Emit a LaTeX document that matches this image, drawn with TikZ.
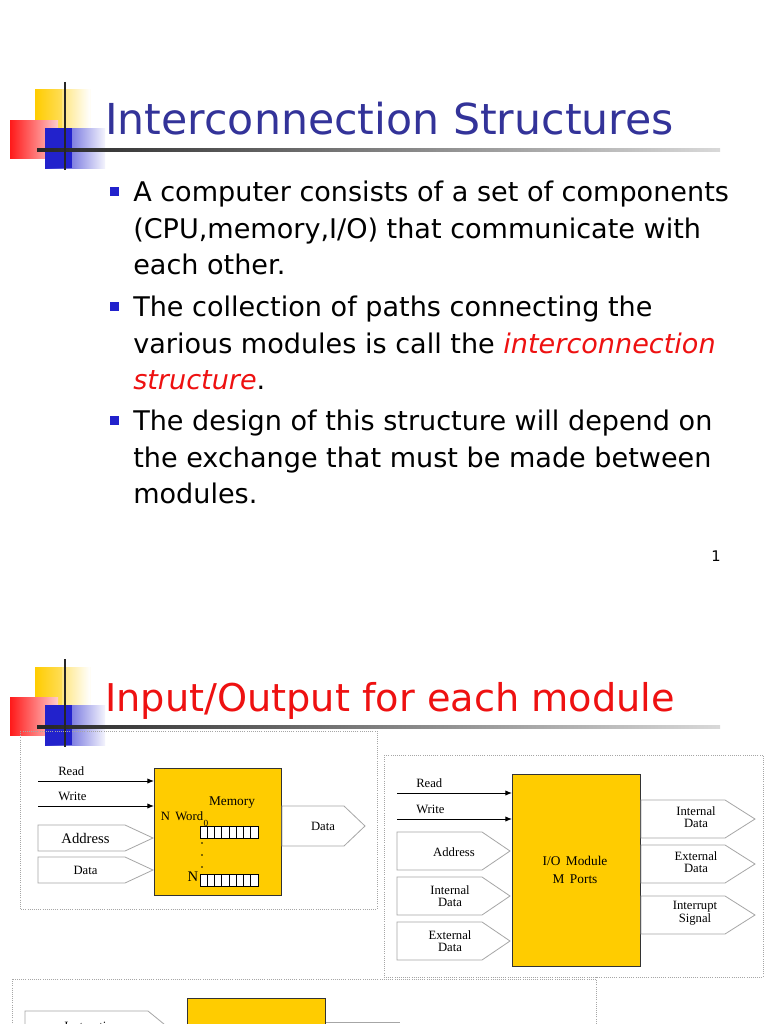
\documentclass[tikz,border=0pt]{standalone}
\usepackage{fontspec}
\setmainfont{Liberation Serif}
\newfontfamily\dejavu{DejaVu Sans}
\usetikzlibrary{arrows.meta}
\definecolor{ttl}{HTML}{333399}
\definecolor{gold}{HTML}{FFCC00}
\definecolor{redt}{HTML}{EE1111}
\definecolor{blu}{HTML}{2222CC}
\tikzset{
  dotbox/.style={draw=gray!70,densely dotted,line width=0.6pt},
  ybox/.style={draw=black!80,fill=gold,line width=0.6pt},
  penta/.style={draw=gray!70,fill=white,line width=0.6pt},
  sig/.style={-{Latex[length=5pt,width=4pt]},line width=0.7pt},
  lbl/.style={font=\fontsize{9.5}{10}\selectfont,inner sep=0pt},
  plbl/.style={font=\fontsize{9.5}{8.5}\selectfont,inner sep=0pt,align=center},
  btxt/.style={font=\dejavu\fontsize{20.3}{24}\selectfont,anchor=base west,inner sep=0pt},
}
\newcommand\pent[6]{\draw[penta] (#2,#3) -- (#4,#3) -- (#6,{(#3+#5)/2}) -- (#4,#5) -- (#2,#5) -- cycle;
  \coordinate (#1) at ({(#2+#4)/2+4},{(#3+#5)/2});}
\newcommand\logo[1]{%
  \begin{scope}[yshift=#1]
  \shade[left color=gold,right color=gold!30] (35,90) rectangle (90,140);
  \shade[left color=white!50!gold,right color=white] (62,90) rectangle (90,140);
  \shade[left color=red!90,right color=red!20] (10,120) rectangle (58,158);
  \shade[left color=blu,right color=blu!5] (45,128) rectangle (105,168);
  \fill[blu] (45,128) rectangle (72,168);
  \shade[left color=black!85,right color=black!15] (37,148.5) rectangle (720,151);
  \draw[black!85,line width=1.6pt] (65,82) -- (65,170);
  \end{scope}}
\begin{document}
\begin{tikzpicture}[x=0.75pt,y=-0.75pt]
\useasboundingbox (0,0) rectangle (768,1024);
\fill[white] (0,0) rectangle (768,1024);
\clip (0,0) rectangle (768,1024);
% ---------- slide 1
\logo{0}
\node[font=\dejavu\fontsize{32}{34}\selectfont,text=ttl,anchor=base west,inner sep=0pt] (t1) at (105,134) {Interconnection Structures};
\foreach \y in {193,308,422} \fill[blu] (110,\y-6) rectangle (119,\y+3);
\node[btxt] (l1) at (133,201) {A computer consists of a set of components};
\node[btxt] (l2) at (133,238) {(CPU,memory,I/O) that communicate with};
\node[btxt] (l3) at (133,274) {each other.};
\node[btxt] (l4) at (133,316) {The collection of paths connecting the};
\node[btxt] (l5) at (133,353) {various modules is call the {\color{redt}\itshape interconnection}};
\node[btxt] (l6) at (133,389) {{\color{redt}\itshape structure}.};
\node[btxt] (l7) at (133,430) {The design of this structure will depend on};
\node[btxt] (l8) at (133,467) {the exchange that must be made between};
\node[btxt] (l9) at (133,503) {modules.};
\node[font=\dejavu\fontsize{11}{12}\selectfont] (pg) at (716,556) {1};
% ---------- slide 2
\logo{-432.75pt}
\node[font=\dejavu\fontsize{28.7}{30}\selectfont,text=redt,anchor=base west,inner sep=0pt] (t2) at (105,711) {Input/Output for each module};
% memory panel
\draw[dotbox] (20,731) rectangle (377,909);
\node[ybox,minimum width=95.25pt,minimum height=95.25pt,anchor=north west] (mem) at (154,768) {};
\coordinate (r0) at (38,781); \coordinate (w0) at (38,806);
\draw[sig] (r0) -- (mem.west |- r0);
\draw[sig] (w0) -- (mem.west |- w0);
\node[lbl,anchor=base west] (lr) at (58,775) {Read};
\node[lbl,anchor=base west] (lw) at (58,800) {Write};
\pent{pa}{38}{825}{125}{851}{153}
\node[font=\fontsize{11}{12}\selectfont,inner sep=0pt] at (pa) {Address};
\pent{pd}{38}{857}{125}{883}{153}
\node[lbl] at (pd) {Data};
\pent{po}{282}{806}{344}{846}{365}
\node[lbl] at (323,826) {Data};
\node[font=\fontsize{10}{10}\selectfont,inner sep=0pt] (mt) at (232,803) {Memory};
\node[lbl] (nw) at (182,816) {N\, Word};
\foreach \yy in {826,874}{
  \draw[fill=white,line width=0.5pt] (200,\yy) rectangle (258,\yy+12);
  \foreach \k in {1,...,7} \draw[line width=0.5pt] (200+\k*7.25,\yy) -- (200+\k*7.25,\yy+12);}
\node[font=\fontsize{7}{7}\selectfont,inner sep=0pt] at (206,823) {0};
\foreach \yy in {843,855,867} \fill (202,\yy) circle (0.9);
\node[font=\fontsize{11}{11}\selectfont,inner sep=0pt] at (193,877) {N};
% I/O panel
\draw[dotbox] (384,755) rectangle (763,977);
\node[ybox,minimum width=96pt,minimum height=144pt,anchor=north west] (io) at (512,774) {};
\node[font=\fontsize{10}{13}\selectfont,align=center] (iot) at (575,870) {I/O\, Module\\M\, Ports};
\coordinate (r1) at (397,793); \coordinate (w1) at (397,819);
\draw[sig] (r1) -- (io.west |- r1);
\draw[sig] (w1) -- (io.west |- w1);
\node[lbl,anchor=base west] at (416,787) {Read};
\node[lbl,anchor=base west] at (416,813) {Write};
\pent{ia}{397}{832}{482}{870}{510}
\node[lbl] at (454,852) {Address};
\pent{ii}{397}{877}{482}{915}{510}
\node[plbl] at (450,896) {Internal\\Data};
\pent{ie}{397}{922}{482}{960}{510}
\node[plbl] at (450,941) {External\\Data};
\pent{oi}{641}{800}{725}{838}{755}
\node[plbl] at (696,817) {Internal\\Data};
\pent{oe}{641}{845}{725}{883}{755}
\node[plbl] at (696,862) {External\\Data};
\pent{os}{641}{896}{725}{934}{755}
\node[plbl] at (695,913) {Interrupt\\Signal};
% bottom panel
\draw[dotbox] (12,979) rectangle (596,1040);
\draw[dotbox] (596,977) -- (596,979);
\node[ybox,minimum width=103.5pt,minimum height=40pt,anchor=north west] (cpu) at (187,998) {};
\pent{bi}{25}{1011}{148}{1060}{178}
\node[lbl,anchor=base west] at (64,1030) {Instructions};
\draw[penta] (326,1022) -- (400,1022);
\end{tikzpicture}
\end{document}
